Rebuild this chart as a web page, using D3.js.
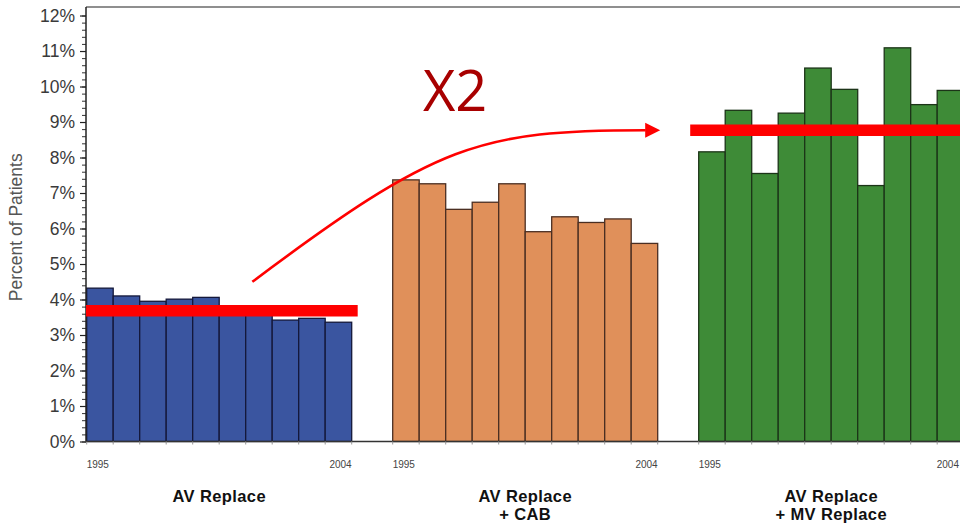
<!DOCTYPE html>
<html>
<head>
<meta charset="utf-8">
<script src="https://cdn.jsdelivr.net/npm/d3@7/dist/d3.min.js"></script>
<style>
  html, body { margin: 0; padding: 0; background: #fff; }
  svg { display: block; }
</style>
</head>
<body>
<svg id="chart" width="960" height="523"></svg>
<script>
// ---- Data ----
const groups = ["AV Replace", "AV Replace|+ CAB", "AV Replace|+ MV Replace"];
const years = ["1995", "1996", "1997", "1998", "1999", "2000", "2001", "2002", "2003", "2004"];
const avReplace = [4.32, 4.10, 3.95, 4.01, 4.06, 3.72, 3.68, 3.42, 3.47, 3.36];
const avReplaceCab = [7.37, 7.26, 6.54, 6.74, 7.26, 5.91, 6.33, 6.17, 6.27, 5.58];
const avReplaceMv = [8.16, 9.33, 7.55, 9.25, 10.52, 9.92, 7.21, 11.09, 9.49, 9.89];
const groupColors = ["#3a55a0", "#e0905a", "#3e8b37"];
const groupStrokes = ["#14183a", "#4a2e22", "#1c3418"];
const averageLines = [3.68, null, 8.77];           // red reference bars
const yTickValues = [0, 1, 2, 3, 4, 5, 6, 7, 8, 9, 10, 11, 12];
const yTickLabels = ["0%", "1%", "2%", "3%", "4%", "5%", "6%", "7%", "8%", "9%", "10%", "11%", "12%"];
const shownYearLabels = ["1995", "2004"];
const annotationText = "X2";
const seriesByGroup = [avReplace, avReplaceCab, avReplaceMv];

(function () {
// ---- Layout ----
const svg = d3.select("#chart");
const W = 960, H = 523;
const mLeft = 86, mTop = 7, mBottom = 441.5;

const y = d3.scaleLinear().domain([0, 12.24]).range([mBottom, mTop]);
const xGroup = d3.scaleBand().domain(d3.range(groups.length))
  .range([86.7, 963.7]).paddingInner(0.134).paddingOuter(0);
const xYear = d3.scaleBand().domain(years).range([0, xGroup.bandwidth()]).padding(0);

svg.append("defs").append("clipPath").attr("id", "clip")
  .append("rect").attr("x", 0).attr("y", 0).attr("width", W).attr("height", H);
const root = svg.append("g").attr("clip-path", "url(#clip)");

// ---- Bars ----
groups.forEach((g, gi) => {
  const gx = xGroup(gi);
  root.append("g").selectAll("rect")
    .data(seriesByGroup[gi])
    .join("rect")
    .attr("x", (d, i) => gx + xYear(years[i]))
    .attr("y", d => y(d))
    .attr("width", xYear.bandwidth())
    .attr("height", d => y(0) - y(d))
    .attr("fill", groupColors[gi])
    .attr("stroke", groupStrokes[gi])
    .attr("stroke-width", 1.3);
});

// ---- Frame / axes ----
root.append("line").attr("x1", mLeft).attr("x2", W).attr("y1", mTop).attr("y2", mTop)
  .attr("stroke", "#6a6a6a").attr("stroke-width", 1.5);
root.append("line").attr("x1", mLeft).attr("x2", W).attr("y1", mBottom).attr("y2", mBottom)
  .attr("stroke", "#333").attr("stroke-width", 1.3);

groups.forEach((g, gi) => {
  const gx = xGroup(gi);
  const edges = years.map(yr => gx + xYear(yr)).concat([gx + xGroup.bandwidth()]);
  root.append("g").selectAll("line").data(edges).join("line")
    .attr("x1", d => d).attr("x2", d => d)
    .attr("y1", mBottom).attr("y2", mBottom + 3)
    .attr("stroke", "#999").attr("stroke-width", 1);
});

const minorTicks = d3.range(0, 12.01, 0.2);
root.append("g").attr("transform", `translate(${mLeft},0)`)
  .call(d3.axisLeft(y).tickValues(minorTicks).tickSize(4).tickFormat(""))
  .call(g => g.select(".domain").remove())
  .call(g => g.selectAll("line").attr("stroke", "#333").attr("stroke-width", 1));

const yAxis = root.append("g").attr("transform", `translate(${mLeft},0)`)
  .call(d3.axisLeft(y).tickValues(yTickValues).tickSize(6).tickPadding(5)
    .tickFormat((d, i) => yTickLabels[i]));
yAxis.select(".domain").attr("d", `M0,${mTop}V${mBottom}`).attr("stroke", "#222").attr("stroke-width", 1.5);
yAxis.selectAll("line").attr("stroke", "#222").attr("stroke-width", 1.2);
yAxis.selectAll("text")
  .attr("font-family", "'Liberation Sans', Arial, sans-serif")
  .attr("font-size", 17.5)
  .attr("fill", "#3a3a3a");

root.append("text")
  .attr("transform", `translate(22,${(mTop + mBottom) / 2 + 3}) rotate(-90)`)
  .attr("text-anchor", "middle")
  .attr("font-family", "'Liberation Sans', Arial, sans-serif")
  .attr("font-size", 17.5)
  .attr("fill", "#555")
  .text("Percent of Patients");

groups.forEach((g, gi) => {
  const gx = xGroup(gi);
  root.append("text")
    .attr("x", gx + xYear(shownYearLabels[0]))
    .attr("y", mBottom + 26)
    .attr("font-family", "'Liberation Sans', Arial, sans-serif")
    .attr("font-size", 10).attr("fill", "#444")
    .text(shownYearLabels[0]);
  root.append("text")
    .attr("x", Math.min(gx + xYear(shownYearLabels[1]) + xYear.bandwidth(), W - 1))
    .attr("y", mBottom + 26)
    .attr("text-anchor", "end")
    .attr("font-family", "'Liberation Sans', Arial, sans-serif")
    .attr("font-size", 10).attr("fill", "#444")
    .text(shownYearLabels[1]);
  const lines = g.split("|");
  lines.forEach((ln, li) => {
    root.append("text")
      .attr("x", gx + xGroup.bandwidth() / 2)
      .attr("y", mBottom + 60 + li * 18.5)
      .attr("text-anchor", "middle")
      .attr("font-family", "'Liberation Sans', Arial, sans-serif")
      .attr("font-size", 16.5).attr("font-weight", "bold")
      .attr("letter-spacing", 0.4).attr("fill", "#111")
      .text(ln);
  });
});

// ---- Red average bars ----
averageLines.forEach((v, gi) => {
  if (v == null) return;
  const x0 = Math.max(mLeft, xGroup(gi) - 8.5);
  const x1 = xGroup(gi) + xGroup.bandwidth() + 6;
  root.append("line")
    .attr("x1", x0).attr("x2", x1)
    .attr("y1", y(v)).attr("y2", y(v))
    .attr("stroke", "#ff0000").attr("stroke-width", 11.5);
});

// ---- Arrow annotation ----
const g0 = xGroup(0), g2 = xGroup(2), bw = xYear.bandwidth();
const p0 = [g0 + 6.25 * bw, y(4.5)];
const p3 = [g2 - 53, y(averageLines[2])];
const p1 = [g0 + 13.2 * bw, y(8.38)];
const p2 = [g2 - 220, y(averageLines[2])];
const path = d3.path();
path.moveTo(p0[0], p0[1]);
path.bezierCurveTo(p1[0], p1[1], p2[0], p2[1], p3[0], p3[1]);
root.append("path").attr("d", path.toString())
  .attr("fill", "none").attr("stroke", "#ff0000").attr("stroke-width", 2.6);
const tipX = g2 - 38.5, tipY = y(averageLines[2]);
root.append("path")
  .attr("d", `M${tipX},${tipY}L${tipX - 15},${tipY - 7.5}L${tipX - 15},${tipY + 7.5}Z`)
  .attr("fill", "#ff0000");

root.append("text")
  .attr("x", (g0 + xGroup.bandwidth() + g2) / 2 - 70)
  .attr("y", y(9.3))
  .attr("text-anchor", "middle")
  .attr("font-family", "'Open Sans', 'Noto Sans', sans-serif")
  .attr("font-size", 56)
  .attr("fill", "#a80000")
  .text(annotationText);
})();
</script>
</body>
</html>
